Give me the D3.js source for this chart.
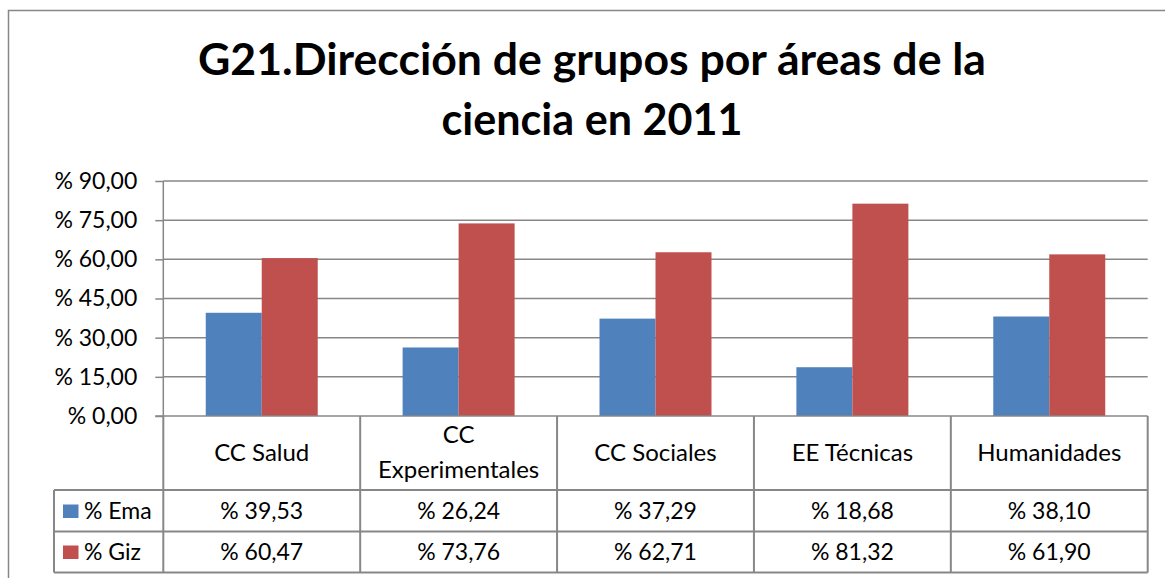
<!DOCTYPE html>
<html>
<head>
<meta charset="utf-8">
<script src="https://cdn.jsdelivr.net/npm/d3@7"></script>
<style>
  html, body { margin: 0; padding: 0; background: #fff; }
  svg { display: block; }
  text { font-family: Lato, "Open Sans", sans-serif; fill: #000; }
</style>
</head>
<body>
<svg id="chart" width="1165" height="578"></svg>
<script>
// ---- data ----
const titleLines = ["G21.Dirección de grupos por áreas de la", "ciencia en 2011"];
const categories = [["CC Salud"], ["CC", "Experimentales"], ["CC Sociales"], ["EE Técnicas"], ["Humanidades"]];
const seriesNames = ["% Ema", "% Giz"];
const emaValues = [39.53, 26.24, 37.29, 18.68, 38.10];
const gizValues = [60.47, 73.76, 62.71, 81.32, 61.90];
const yTicks = [0, 15, 30, 45, 60, 75, 90];

// ---- layout ----
const W = 1165, H = 578;
const plotLeft = 163.3, plotRight = 1147.7, plotTop = 181, plotBottom = 416;
const tableLeft = 54, rowTops = [416, 490, 531.5, 572.5];
const colors = ["#4F81BD", "#C0504D"];
const grey = "#878787";

const svg = d3.select("#chart");
const fmt = v => "% " + d3.format(".2f")(v).replace(".", ",");

// outer chart border
svg.append("rect").attr("x", 8.5).attr("y", 10.5).attr("width", W + 20).attr("height", H + 20)
  .attr("fill", "none").attr("stroke", grey).attr("stroke-width", 1.5);

// title
const titleWidths = [788, 301];
const titleBaselines = [75, 135];
titleLines.forEach((t, i) => {
  svg.append("text").attr("x", 592).attr("y", titleBaselines[i])
    .attr("text-anchor", "middle").attr("font-weight", "bold").attr("font-size", 44.5)
    .attr("textLength", titleWidths[i]).attr("lengthAdjust", "spacingAndGlyphs")
    .text(t);
});

const catKeys = categories.map(c => c.join(" "));
const x0 = d3.scaleBand().domain(catKeys).range([plotLeft, plotRight]).paddingInner(0).paddingOuter(0);
const x1 = d3.scaleBand().domain(seriesNames).range([0, x0.bandwidth()]).paddingInner(0).paddingOuter(0.758);
const y = d3.scaleLinear().domain([0, 90]).range([plotBottom, plotTop]);

// gridlines
svg.append("g").selectAll("line").data(yTicks.filter(d => d > 0)).join("line")
  .attr("x1", plotLeft).attr("x2", plotRight)
  .attr("y1", d => y(d)).attr("y2", d => y(d))
  .attr("stroke", grey).attr("stroke-width", 1.5);

// bars
const seriesData = [emaValues, gizValues];
seriesData.forEach((vals, si) => {
  svg.append("g").selectAll("rect").data(vals).join("rect")
    .attr("x", (d, i) => x0(catKeys[i]) + x1(seriesNames[si]))
    .attr("width", x1.bandwidth())
    .attr("y", d => y(d))
    .attr("height", d => y(0) - y(d))
    .attr("fill", colors[si]);
});

// y axis
const yAxis = d3.axisLeft(y).tickValues(yTicks).tickSize(8).tickPadding(18).tickFormat(fmt);
const gy = svg.append("g").attr("transform", `translate(${plotLeft},0)`).call(yAxis);
gy.select(".domain").attr("stroke", grey).attr("stroke-width", 1.5).attr("d", `M0,${plotTop}V${plotBottom}`);
gy.selectAll(".tick line").attr("stroke", grey).attr("stroke-width", 1.5);
gy.selectAll(".tick text").attr("font-family", "Lato, sans-serif").attr("font-size", 23).attr("fill", "#000");

// x axis line / table top
svg.append("line").attr("x1", plotLeft - 8).attr("x2", plotRight).attr("y1", plotBottom).attr("y2", plotBottom)
  .attr("stroke", grey).attr("stroke-width", 1.5);

// table lines
const tg = svg.append("g").attr("stroke", grey).attr("stroke-width", 2).attr("fill", "none");
[rowTops[1], rowTops[2], rowTops[3]].forEach(yy => {
  tg.append("line").attr("x1", tableLeft).attr("x2", plotRight).attr("y1", yy).attr("y2", yy);
});
tg.append("line").attr("x1", tableLeft).attr("x2", tableLeft).attr("y1", rowTops[1]).attr("y2", rowTops[3]);
const colEdges = catKeys.map(k => x0(k)).concat([plotRight]);
colEdges.forEach(xx => {
  tg.append("line").attr("x1", xx).attr("x2", xx).attr("y1", plotBottom).attr("y2", rowTops[3]);
});

// category labels
catKeys.forEach((k, i) => {
  const lines = categories[i];
  const cx = x0(k) + x0.bandwidth() / 2;
  const t = svg.append("text").attr("text-anchor", "middle").attr("font-size", 24);
  if (lines.length === 1) {
    t.append("tspan").attr("x", cx).attr("y", 461).text(lines[0]);
  } else {
    t.append("tspan").attr("x", cx).attr("y", 443).text(lines[0]);
    t.append("tspan").attr("x", cx).attr("y", 478).text(lines[1]);
  }
});

// legend keys & row values
const rowBaselines = [519, 560];
seriesNames.forEach((s, si) => {
  svg.append("rect").attr("x", 63).attr("y", rowBaselines[si] - 14.5).attr("width", 15.5).attr("height", 13.5)
    .attr("fill", colors[si]);
  svg.append("text").attr("x", 84).attr("y", rowBaselines[si]).attr("font-size", 23).text(s);
  svg.append("g").selectAll("text").data(seriesData[si]).join("text")
    .attr("x", (d, i) => x0(catKeys[i]) + x0.bandwidth() / 2)
    .attr("y", rowBaselines[si])
    .attr("text-anchor", "middle").attr("font-size", 23)
    .text(d => fmt(d));
});
</script>
</body>
</html>
